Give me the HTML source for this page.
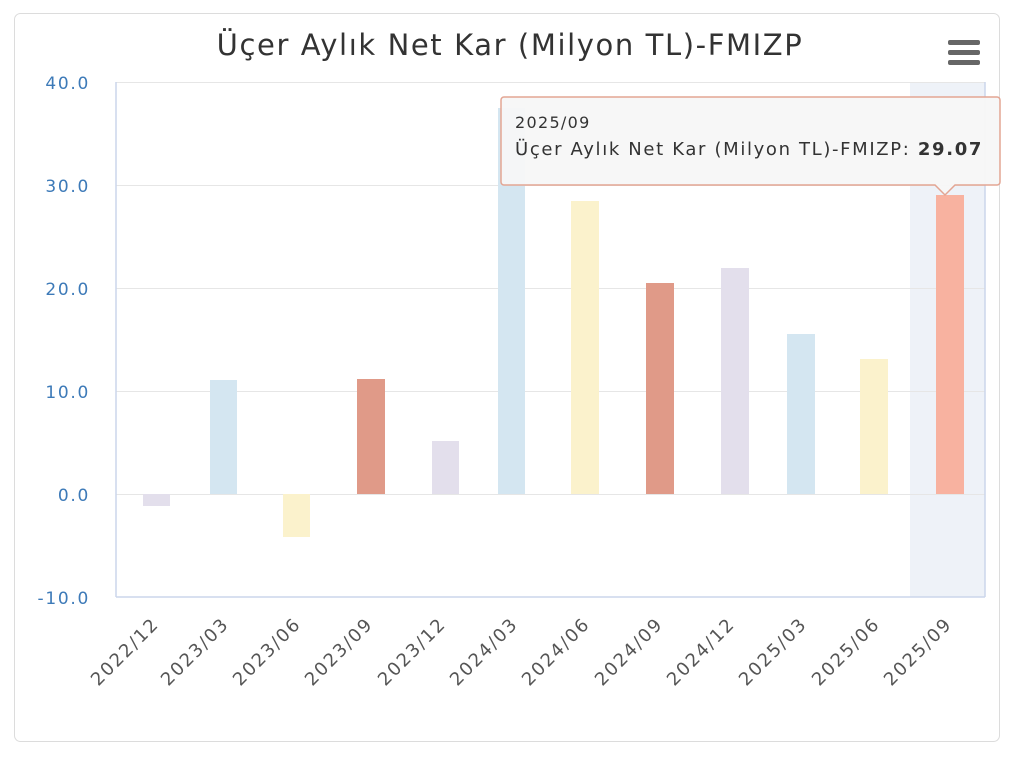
<!DOCTYPE html>
<html><head><meta charset="utf-8"><style>
body{margin:0;background:#fff;}
svg{display:block;font-family:"Liberation Sans","DejaVu Sans",sans-serif;}
</style></head><body>
<svg width="1024" height="771" xmlns="http://www.w3.org/2000/svg">
<rect x="14.5" y="13.5" width="985" height="728" rx="6" fill="#fff" stroke="#dcdcdc"/>
<text x="510" y="55" text-anchor="middle" font-size="29" letter-spacing="1.6" fill="#333" font-family="DejaVu Sans, sans-serif">Üçer Aylık Net Kar (Milyon TL)-FMIZP</text>
<g fill="#666"><rect x="948" y="40" width="32" height="5" rx="2"/><rect x="948" y="50" width="32" height="5" rx="2"/><rect x="948" y="60" width="32" height="5" rx="2"/></g>
<rect x="910" y="82" width="75" height="515" fill="#eef2f8"/>
<g stroke="#e6e6e6" stroke-width="1">
<line x1="116" x2="985" y1="82.5" y2="82.5"/><line x1="116" x2="985" y1="185.5" y2="185.5"/><line x1="116" x2="985" y1="288.5" y2="288.5"/><line x1="116" x2="985" y1="391.5" y2="391.5"/><line x1="116" x2="985" y1="494.5" y2="494.5"/>
</g>
<g stroke="#ccd6eb" stroke-width="1.5" fill="none"><line x1="116" y1="82" x2="116" y2="597"/><line x1="116" y1="597" x2="985" y2="597"/><line x1="985" y1="82" x2="985" y2="597"/></g>
<g font-size="17" letter-spacing="1.7" fill="#3d7ab8" text-anchor="end" font-family="DejaVu Sans, sans-serif">
<text x="90" y="89">40.0</text><text x="90" y="192">30.0</text><text x="90" y="295">20.0</text><text x="90" y="398">10.0</text><text x="90" y="501">0.0</text><text x="90" y="604">-10.0</text>
</g>
<rect x="143" y="494" width="27" height="12" fill="#e3dfec"/>
<rect x="210" y="380" width="27" height="114" fill="#d4e6f1"/>
<rect x="283" y="494" width="27" height="43" fill="#fbf2cc"/>
<rect x="357" y="379" width="28" height="115" fill="#e09a88"/>
<rect x="432" y="441" width="27" height="53" fill="#e3dfec"/>
<rect x="498" y="108" width="27" height="386" fill="#d4e6f1"/>
<rect x="571" y="201" width="28" height="293" fill="#fbf2cc"/>
<rect x="646" y="283" width="28" height="211" fill="#e09a88"/>
<rect x="721" y="268" width="28" height="226" fill="#e3dfec"/>
<rect x="787" y="334" width="28" height="160" fill="#d4e6f1"/>
<rect x="860" y="359" width="28" height="135" fill="#fbf2cc"/>
<rect x="936" y="195" width="28" height="299" fill="#f8b2a0"/>
<g font-size="18" letter-spacing="1.8" fill="#555" text-anchor="end" font-family="DejaVu Sans, sans-serif">
<text transform="translate(160,625) rotate(-45)">2022/12</text>
<text transform="translate(230,625) rotate(-45)">2023/03</text>
<text transform="translate(302,625) rotate(-45)">2023/06</text>
<text transform="translate(374,625) rotate(-45)">2023/09</text>
<text transform="translate(447,625) rotate(-45)">2023/12</text>
<text transform="translate(519,625) rotate(-45)">2024/03</text>
<text transform="translate(591,625) rotate(-45)">2024/06</text>
<text transform="translate(664,625) rotate(-45)">2024/09</text>
<text transform="translate(736,625) rotate(-45)">2024/12</text>
<text transform="translate(808,625) rotate(-45)">2025/03</text>
<text transform="translate(881,625) rotate(-45)">2025/06</text>
<text transform="translate(953,625) rotate(-45)">2025/09</text>
</g>
<path d="M504,97 H997 a3,3 0 0 1 3,3 V182 a3,3 0 0 1 -3,3 H955 L945,195 L935,185 H504 a3,3 0 0 1 -3,-3 V100 a3,3 0 0 1 3,-3 Z" fill="#f7f7f7" fill-opacity="0.95" stroke="#e3a593" stroke-width="1.5"/>
<text x="515" y="128" font-size="16" letter-spacing="1.3" fill="#333" font-family="DejaVu Sans, sans-serif">2025/09</text>
<text x="515" y="155" font-size="18" letter-spacing="1.65" fill="#333" font-family="DejaVu Sans, sans-serif">Üçer Aylık Net Kar (Milyon TL)-FMIZP: <tspan font-weight="bold">29.07</tspan></text>
</svg>
</body></html>
